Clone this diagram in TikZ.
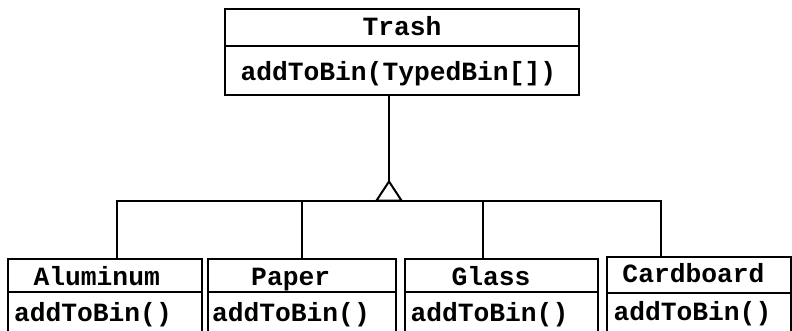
\documentclass[tikz,border=0pt]{standalone}
\usepackage{fontspec}
\setmonofont{Liberation Mono}
\begin{document}
\begin{tikzpicture}
        [x=1pt,y=-1pt,line width=2pt,
         classbox/.style={draw,inner sep=0pt,outer sep=0pt,anchor=north west},
         classtext/.style={inner sep=0pt,font=\ttfamily\bfseries\fontsize{26.3}{30}\selectfont}]
        \useasboundingbox (0,0) rectangle (792,330);
        \clip (0,0) rectangle (792,330);

        % base class
        \node[classbox,minimum width=354pt,minimum height=37pt] (trash) at (225,9) {};
        \node[classbox,minimum width=354pt,minimum height=49pt] (trashops) at (225,46) {};
        \node[classtext,anchor=base] (trashname) at (402,35) {Trash};
        \node[classtext,anchor=base west] (trashmeth) at (239.5,80.5) {addToBin(TypedBin[])};

        % derived classes
        \node[classbox,minimum width=193.4pt,minimum height=32.7pt] (alu) at (8.3,259) {};
        \node[classbox,minimum width=193.4pt,minimum height=50pt] (aluops) at (8.3,291.7) {};
        \node[classtext,anchor=base] (aluname) at (96.7,285) {Aluminum};
        \node[classtext,anchor=base west] (alumeth) at (13,321.7) {addToBin()};

        \node[classbox,minimum width=188.5pt,minimum height=32.7pt] (paper) at (207.5,259) {};
        \node[classbox,minimum width=188.5pt,minimum height=50pt] (paperops) at (207.5,291.7) {};
        \node[classtext,anchor=base] (papername) at (290.7,285) {Paper};
        \node[classtext,anchor=base west] (papermeth) at (211,321.7) {addToBin()};

        \node[classbox,minimum width=193pt,minimum height=32.7pt] (glass) at (405,259) {};
        \node[classbox,minimum width=193pt,minimum height=50pt] (glassops) at (405,291.7) {};
        \node[classtext,anchor=base] (glassname) at (491,285) {Glass};
        \node[classtext,anchor=base west] (glassmeth) at (409.5,321.7) {addToBin()};

        \node[classbox,minimum width=184pt,minimum height=35.5pt] (card) at (607,257) {};
        \node[classbox,minimum width=184pt,minimum height=50pt] (cardops) at (607,292.5) {};
        \node[classtext,anchor=base] (cardname) at (693.5,282.5) {Cardboard};
        \node[classtext,anchor=base west] (cardmeth) at (612.5,320.5) {addToBin()};

        % inheritance
        \coordinate (hub) at (389,200.5);
        \coordinate (apex) at (389,181.5);
        \coordinate (alustem) at (117,200.5);
        \coordinate (paperstem) at (301.5,200.5);
        \coordinate (glassstem) at (483,200.5);
        \coordinate (cardstem) at (661,200.5);

        \draw (trashops.south -| apex) -- (apex);
        \draw (apex) -- ([xshift=-12.5pt]hub) -- ([xshift=12.5pt]hub) -- cycle;
        \draw (alu.north -| alustem) -- (alustem) -- (cardstem) -- (card.north -| cardstem);
        \draw (paperstem) -- (paper.north -| paperstem);
        \draw (glassstem) -- (glass.north -| glassstem);
      \end{tikzpicture}
\end{document}
